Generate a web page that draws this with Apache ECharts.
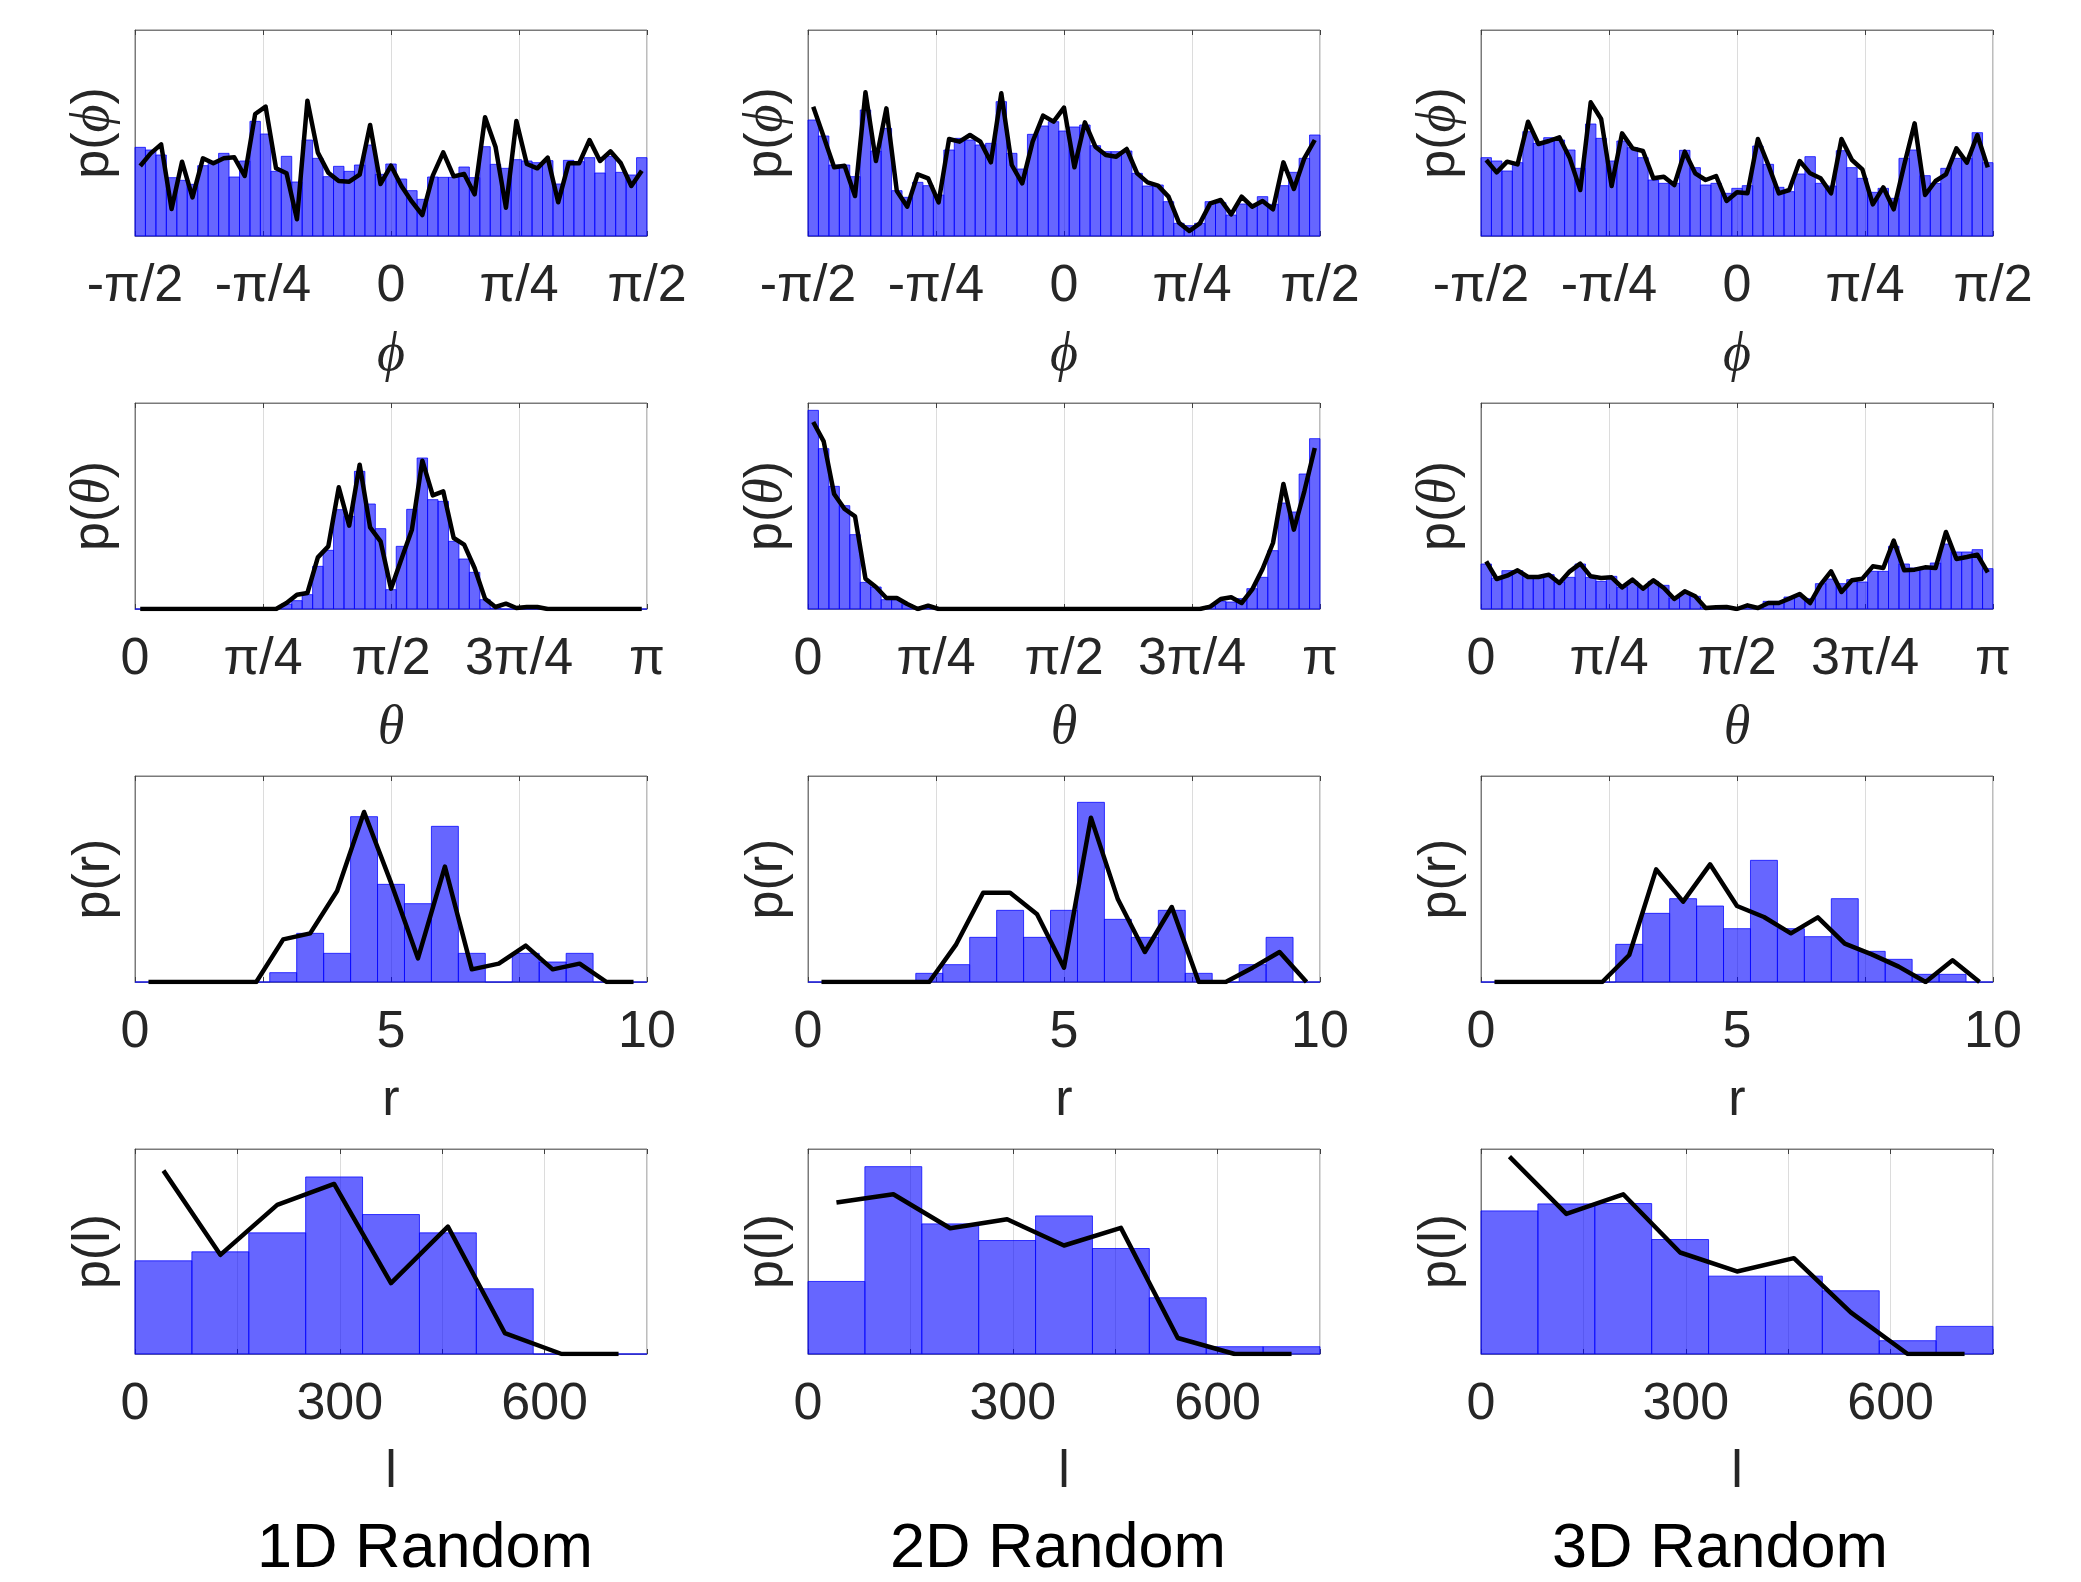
<!DOCTYPE html>
<html><head><meta charset="utf-8">
<script src="https://cdn.jsdelivr.net/npm/echarts@6/dist/echarts.min.js"></script>
<style>html,body{margin:0;padding:0;background:#fff}#c{width:2081px;height:1582px}</style>
</head><body><div id="c"></div>
<script>
// ---- data (heights, arbitrary density units) ----
const columns = ['1D Random', '2D Random', '3D Random'];
const phiTicks = ['-π/2', '-π/4', '0', 'π/4', 'π/2'];
const thetaTicks = ['0', 'π/4', 'π/2', '3π/4', 'π'];
const rTicks = ['0', '', '5', '', '10'];
const lTicks = ['0', '', '300', '', '600', ''];

const phiBars1D = [266,258,243,175,167,155,211,223,248,177,225,344,306,194,239,162,288,233,178,209,194,213,273,185,216,171,136,110,177,176,176,207,175,268,215,203,229,225,220,226,156,227,223,235,189,239,191,183,235];
const phiLine1D = [210,248,275,81,223,116,233,218,233,236,180,366,388,203,188,50,406,250,190,165,163,184,333,156,211,150,103,63,181,251,179,186,125,356,268,85,345,216,203,235,101,218,218,288,225,254,218,150,196];
const phiBars2D = [348,300,213,213,178,378,255,323,136,116,161,151,123,258,293,288,273,278,403,248,201,305,330,343,315,327,333,271,253,253,255,188,150,153,103,38,31,38,103,100,63,96,95,118,95,151,191,233,303];
const phiLine2D = [388,298,206,211,120,431,225,383,135,88,185,173,101,291,283,303,283,221,428,213,158,283,361,343,385,206,341,268,243,238,261,188,161,151,118,40,15,38,98,108,65,118,88,105,80,221,141,233,288];
const phiBars3D = [235,225,195,220,313,278,295,288,258,203,336,293,225,285,265,235,168,158,158,257,205,153,158,128,143,151,270,215,146,133,186,238,158,150,256,205,173,131,143,113,233,258,181,158,203,233,233,310,220];
const phiLine3D = [228,191,223,215,343,276,285,296,233,138,401,351,150,308,263,255,173,178,153,253,188,168,180,105,131,128,291,213,128,138,225,188,173,128,291,228,200,95,146,80,213,338,123,165,185,263,220,303,206];

const thetaBars1D = [0,0,0,0,0,0,0,0,0,0,0,0,0,3,15,25,43,128,176,298,278,413,315,241,58,188,299,453,328,323,203,150,110,28,3,0,0,0,0,0,0,0,0,0,0,0,0,0,0];
const thetaLine1D = [0,0,0,0,0,0,0,0,0,0,0,0,0,0,18,43,48,155,188,365,250,433,245,203,61,150,238,445,341,353,213,193,123,31,6,16,3,6,6,0,0,0,0,0,0,0,0,0,0];
const thetaBars2D = [596,481,368,310,223,80,66,28,28,13,5,3,0,0,0,0,0,0,0,0,0,0,0,0,0,0,0,0,0,0,0,0,0,0,0,0,0,0,8,23,21,31,61,95,175,318,291,405,511];
const thetaLine2D = [561,503,345,300,278,91,66,33,33,15,0,10,0,0,0,0,0,0,0,0,0,0,0,0,0,0,0,0,0,0,0,0,0,0,0,0,0,0,7,30,35,18,58,120,198,375,238,353,483];
const thetaBars3D = [135,93,115,115,98,98,103,81,95,135,95,83,98,65,83,65,83,71,33,48,38,5,3,3,3,5,3,23,23,36,38,31,76,90,76,88,81,113,113,188,135,123,125,138,195,171,171,178,121];
const thetaLine3D = [143,90,100,116,96,96,103,78,113,136,98,93,95,65,88,61,86,63,30,53,38,3,5,6,0,11,3,18,18,31,45,18,73,113,51,86,91,128,123,205,116,118,125,123,231,150,156,163,110];

const rBars1D = [0,0,0,0,0,28,146,86,496,293,235,467,86,0,86,60,86,0,0];
const rLine1D = [0,0,0,0,0,128,146,273,510,298,71,346,38,55,109,38,55,0,0];
const rBars2D = [0,0,0,0,26,52,134,215,134,215,539,188,134,215,26,0,52,134,0];
const rLine2D = [0,0,0,0,0,113,268,268,203,43,493,248,90,225,0,0,43,90,0];
const rBars3D = [0,0,0,0,0,113,206,250,228,160,365,160,136,250,92,68,23,23,0];
const rLine3D = [0,0,0,0,0,81,338,241,353,228,195,146,194,115,83,46,0,65,0];

const lBars1D = [280,307,364,532,419,364,196,0,0];
const lLine1D = [551,298,448,511,213,383,63,0,0];
const lBars2D = [218,563,391,341,415,317,169,22,22];
const lLine2D = [455,480,378,405,326,379,48,0,0];
const lBars3D = [430,451,452,344,234,234,190,40,83];
const lLine3D = [593,421,480,305,248,288,125,0,0];

// ---- layout ----
const FONT = '"Liberation Sans", Arial, Helvetica, sans-serif';
const SERIF = '"Liberation Serif", "DejaVu Serif", serif';
const TXT = '#262626';
const rows = [
  {min: -2, max: 2, interval: 1, ticks: phiTicks, xname: '{g|ϕ}', yname: '{a|p(}{g|ϕ}{a|)}', ymax: 618,
   data: [[phiBars1D, phiLine1D], [phiBars2D, phiLine2D], [phiBars3D, phiLine3D]]},
  {min: 0, max: 4, interval: 1, ticks: thetaTicks, xname: '{g|θ}', yname: '{a|p(}{g|θ}{a|)}', ymax: 618,
   data: [[thetaBars1D, thetaLine1D], [thetaBars2D, thetaLine2D], [thetaBars3D, thetaLine3D]]},
  {min: 0, max: 10, interval: 2.5, ticks: rTicks, xname: '{a|r}', yname: '{a|p(r)}', ymax: 618,
   data: [[rBars1D, rLine1D], [rBars2D, rLine2D], [rBars3D, rLine3D]]},
  {min: 0, max: 750, interval: 150, ticks: lTicks, xname: '{a|l}', yname: '{a|p(l)}', ymax: 616,
   data: [[lBars1D, lLine1D], [lBars2D, lLine2D], [lBars3D, lLine3D]]}
];
const colLeft = [135, 808, 1481];
const rowTop = [30, 403, 776, 1149];
const rowH = [206, 206, 206, 205];
const W = 512;
const titleX = [425, 1058, 1720];
const titleY = 1550;

const rich = {
  a: {fontFamily: FONT, fontSize: 52, color: TXT},
  g: {fontFamily: SERIF, fontStyle: 'italic', fontSize: 54, color: TXT}
};

const grids = [], xAxes = [], yAxes = [], series = [];
rows.forEach((R, r) => {
  for (let c = 0; c < 3; c++) {
    const g = r * 3 + c;
    grids.push({left: colLeft[c], top: rowTop[r], width: W, height: rowH[r],
      show: true, borderColor: '#7a7a7a', borderWidth: 1, backgroundColor: '#fff'});
    const fmt = v => R.ticks[Math.round((v - R.min) / R.interval)] || '';
    xAxes.push({
      type: 'value', gridIndex: g, position: 'bottom', min: R.min, max: R.max, interval: R.interval,
      axisLine: {show: true, onZero: false, lineStyle: {color: '#7a7a7a', width: 1}},
      axisTick: {show: true, inside: true, length: 5, lineStyle: {color: '#404040'}},
      axisLabel: {show: true, formatter: fmt, fontFamily: FONT, fontSize: 52, color: TXT, margin: 25,
                  showMinLabel: true, showMaxLabel: true},
      splitLine: {show: true, lineStyle: {color: '#dcdcdc', width: 1}},
      name: R.xname, nameLocation: 'middle', nameGap: 93, nameTextStyle: {rich: rich}
    });
    xAxes.push({
      type: 'value', gridIndex: g, position: 'top', min: R.min, max: R.max, interval: R.interval,
      axisLine: {show: true, onZero: false, lineStyle: {color: '#7a7a7a', width: 1}},
      axisTick: {show: true, inside: true, length: 5, lineStyle: {color: '#404040'}},
      axisLabel: {show: false}, splitLine: {show: false}
    });
    yAxes.push({
      type: 'value', gridIndex: g, min: 0, max: R.ymax,
      axisLine: {show: true, onZero: false, lineStyle: {color: '#7a7a7a', width: 1}},
      axisTick: {show: false}, axisLabel: {show: false}, splitLine: {show: false},
      name: R.yname, nameLocation: 'middle', nameRotate: 90, nameGap: 14, nameTextStyle: {rich: rich}
    });
    const bars = R.data[c][0], line = R.data[c][1];
    const w = (R.max - R.min) / bars.length;
    series.push({
      type: 'custom', xAxisIndex: 2 * g, yAxisIndex: g, z: 3,
      encode: {x: [0, 1], y: 2},
      data: bars.map((v, i) => [R.min + i * w, R.min + (i + 1) * w, v]),
      renderItem: (params, api) => {
        const p0 = api.coord([api.value(0), api.value(2)]);
        const p1 = api.coord([api.value(1), 0]);
        return {type: 'rect',
          shape: {x: p0[0], y: p0[1], width: p1[0] - p0[0], height: p1[1] - p0[1]},
          style: {fill: 'rgba(0,0,255,0.6)', stroke: 'rgba(0,0,255,0.75)', lineWidth: 1}};
      }
    });
    const lw = (R.max - R.min) / line.length;
    series.push({
      type: 'line', xAxisIndex: 2 * g, yAxisIndex: g, z: 5,
      data: line.map((v, i) => [R.min + (i + 0.5) * lw, v]),
      showSymbol: false, symbol: 'none',
      lineStyle: {color: '#000', width: 4.5, join: 'round'}
    });
  }
});

const chart = echarts.init(document.getElementById('c'), null, {renderer: 'canvas'});
chart.setOption({
  animation: false,
  backgroundColor: '#fff',
  grid: grids, xAxis: xAxes, yAxis: yAxes, series: series,
  graphic: columns.map((t, i) => ({
    type: 'text', x: titleX[i], y: titleY,
    style: {text: t, font: '63px ' + FONT, fill: '#000', align: 'center', verticalAlign: 'middle',
            textAlign: 'center', textVerticalAlign: 'middle'}
  }))
});
</script></body></html>
